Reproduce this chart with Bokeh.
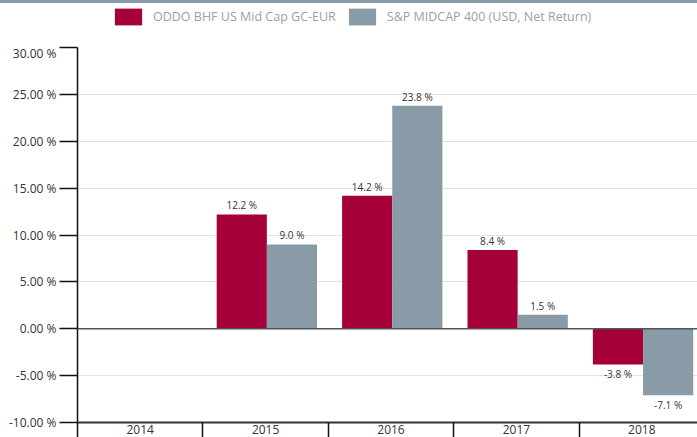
from bokeh.plotting import figure
from bokeh.models import (ColumnDataSource, Range1d, FixedTicker, PrintfTickFormatter,
                          CustomJSTickFormatter, Span, Legend, LegendItem, Div)
from bokeh.layouts import column
from bokeh.embed import file_html
from bokeh.resources import INLINE
from bokeh.core.properties import value
import math

years = ["2014", "2015", "2016", "2017", "2018"]
fund = [float("nan"), 12.2, 14.2, 8.4, -3.8]
index = [float("nan"), 9.0, 23.8, 1.5, -7.1]
series_names = ["ODDO BHF US Mid Cap GC-EUR", "S&P MIDCAP 400 (USD, Net Return)"]
y_ticks = [-10, -5, 0, 5, 10, 15, 20, 25, 30]

RED = "#a6003b"
GRAY = "#8a9ba8"
FONT = "Open Sans"

centers = [i + 0.5 for i in range(len(years))]
bounds = [float(i) for i in range(len(years) + 1)]
bw = 0.4

def src(vals, off):
    xs, ys, lab, base, yo = [], [], [], [], []
    for c, v in zip(centers, vals):
        if v is None or (isinstance(v, float) and math.isnan(v)):
            continue
        xs.append(c + off)
        ys.append(v)
        lab.append(f"{v:.1f} %")
        base.append("bottom" if v >= 0 else "top")
        yo.append(-2 if v >= 0 else 3)
    return ColumnDataSource(dict(x=xs, top=ys, label=lab, base=base, yo=yo))

s_fund = src(fund, -bw / 2 + 0.01)
s_index = src(index, bw / 2 + 0.01)

p = figure(width=697, height=393, output_backend="svg", toolbar_location=None,
           x_range=Range1d(0, 620 / 125.4), y_range=Range1d(-10, 30),
           min_border_left=77, min_border_right=0, min_border_top=3, min_border_bottom=15)
p.outline_line_color = None
p.background_fill_color = "white"
p.border_fill_color = "white"

r1 = p.vbar(x="x", top="top", bottom=0, width=bw, source=s_fund, fill_color=RED, line_color=None)
r2 = p.vbar(x="x", top="top", bottom=0, width=bw, source=s_index, fill_color=GRAY, line_color=None)

for s in (s_fund, s_index):
    p.text(x="x", y="top", text="label", source=s, text_align="center", text_baseline="base",
           y_offset="yo", text_font=value(FONT), text_font_size="10px", text_color="#333333")

p.add_layout(Span(location=0, dimension="width", line_color="#555555", line_width=1.5))

# y axis
p.yaxis.ticker = FixedTicker(ticks=y_ticks)
p.yaxis.formatter = PrintfTickFormatter(format="%.2f %%")
p.yaxis.major_tick_out = 18
p.yaxis.major_tick_in = 0
p.yaxis.minor_tick_line_color = None
p.yaxis.axis_line_color = "#111111"
p.yaxis.axis_line_width = 1.5
p.yaxis.major_tick_line_color = "#111111"
p.yaxis.major_tick_line_width = 1.5
p.yaxis.major_label_text_font = FONT
p.yaxis.major_label_text_font_size = "12px"
p.yaxis.major_label_text_color = "#333333"
p.yaxis.major_label_standoff = 3

# x axis
p.xaxis.ticker = FixedTicker(ticks=centers, minor_ticks=bounds)
p.xaxis.formatter = CustomJSTickFormatter(args=dict(labels=years),
                                          code="return labels[Math.round(tick - 0.5)];")
p.xaxis.major_tick_out = 0
p.xaxis.major_tick_in = 0
p.xaxis.minor_tick_out = 15
p.xaxis.minor_tick_in = 0
p.xaxis.minor_tick_line_color = "#111111"
p.xaxis.minor_tick_line_width = 1.5
p.xaxis.axis_line_color = "#333333"
p.xaxis.axis_line_width = 2
p.xaxis.major_label_text_font = FONT
p.xaxis.major_label_text_font_size = "12px"
p.xaxis.major_label_text_color = "#333333"
p.xaxis.major_label_standoff = -13

p.xgrid.grid_line_color = None
p.ygrid.ticker = FixedTicker(ticks=y_ticks)
p.ygrid.grid_line_color = "#e2e2e2"
p.ygrid.grid_line_width = 1

# legend strip (separate small figure above the chart; its bars lie outside its view)
lg = figure(width=697, height=41, output_backend="svg", toolbar_location=None,
            x_range=Range1d(100, 101), y_range=Range1d(100, 101),
            x_axis_type=None, y_axis_type=None,
            min_border_left=0, min_border_right=0, min_border_top=0, min_border_bottom=0)
lg.grid.visible = False
lg.outline_line_color = None
d1 = lg.vbar(x="x", top="top", bottom=0, width=bw, source=s_fund, fill_color=RED, line_color=None)
d2 = lg.vbar(x="x", top="top", bottom=0, width=bw, source=s_index, fill_color=GRAY, line_color=None)
legend = Legend(items=[LegendItem(label=series_names[0], renderers=[d1]),
                       LegendItem(label=series_names[1], renderers=[d2])],
                orientation="horizontal", location=(34, 17),
                glyph_width=34, glyph_height=21, label_standoff=8, spacing=9,
                label_text_font=FONT, label_text_font_size="12.5px", label_text_color="#a0a0a0",
                border_line_color=None, background_fill_alpha=0, padding=0, margin=0)
lg.add_layout(legend, "center")

top_bar = Div(width=697, height=3, styles={"background-color": GRAY, "margin": "0"})
layout = column(top_bar, lg, p, spacing=0)

open("out.html", "w").write(file_html(layout, INLINE))
